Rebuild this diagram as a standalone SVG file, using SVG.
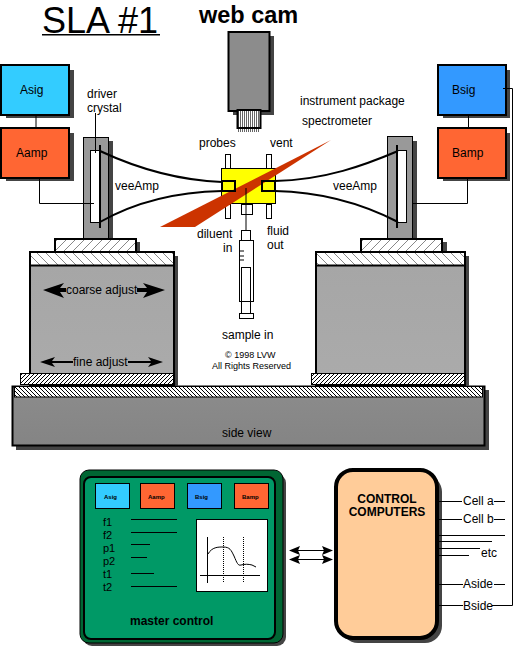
<svg xmlns="http://www.w3.org/2000/svg" width="513" height="649" viewBox="0 0 513 649">
<style>
text{font-family:"Liberation Sans",Arial,sans-serif;font-size:12px;fill:#000}
.b{font-weight:bold}
.s{fill:#444;stroke:none}
.k{stroke:#000;stroke-width:2}
.t{stroke:#000;stroke-width:1;fill:none}
.w{stroke:#000;stroke-width:1;fill:#fff}
.c{stroke:#000;stroke-width:2;fill:none}
.m{font-size:6px;font-weight:bold}
.p{font-size:11px}
</style>
<defs>
<linearGradient id="gb" x1="0" y1="0" x2="0" y2="1"><stop offset="0" stop-color="#a6a6a6"/><stop offset="1" stop-color="#ababab"/></linearGradient>
<linearGradient id="gt" x1="0" y1="0" x2="0" y2="1"><stop offset="0" stop-color="#8c8c8c"/><stop offset="1" stop-color="#848484"/></linearGradient>
<pattern id="hr" width="9" height="9" patternUnits="userSpaceOnUse"><rect width="9" height="9" fill="#fff"/><path d="M0 9L9 0" stroke="#888" stroke-width="1"/></pattern>
<pattern id="hl" width="9" height="9" patternUnits="userSpaceOnUse"><rect width="9" height="9" fill="#fff"/><path d="M0 0L9 9" stroke="#888" stroke-width="1"/></pattern>
<pattern id="dr" width="4" height="4" patternUnits="userSpaceOnUse"><rect width="4" height="4" fill="#fff"/><path d="M0 4L4 0" stroke="#000" stroke-width="1"/></pattern>
<pattern id="dl" width="4" height="4" patternUnits="userSpaceOnUse"><rect width="4" height="4" fill="#fff"/><path d="M0 0L4 4" stroke="#000" stroke-width="1"/></pattern>
<pattern id="lens" width="2" height="4" patternUnits="userSpaceOnUse"><rect width="2" height="4" fill="#fff"/><rect width="1" height="4" fill="#666"/></pattern>
</defs>
<rect width="513" height="649" fill="#fff"/>

<g id="title">
<text x="42" y="33" style="font-size:36px">SLA #1</text>
<rect x="42" y="34" width="118" height="1.5"/>
</g>
<g id="webcam">
<text x="199" y="23" class="b" style="font-size:23.500px">web cam</text>
<rect x="233" y="36" width="41" height="79" class="s"/>
<rect x="237" y="111" width="23" height="21" fill="url(#lens)"/>
<rect x="228.500" y="32" width="41" height="79" fill="#8c8c8c" stroke="#000" stroke-width="2"/>
<rect x="237.500" y="110" width="23" height="18" fill="url(#lens)" stroke="#000" stroke-width="2"/>
</g>

<g id="table">
<rect x="16" y="390" width="473" height="60" class="s"/>
<rect x="12.500" y="386.500" width="472" height="59" fill="url(#gt)" stroke="#000" stroke-width="2"/>
<rect x="14.500" y="386.500" width="468" height="10.500" style="fill:url(#dl);stroke:#000"/>
<text x="222" y="437">side view</text>
</g>

<g id="stageA">
<rect x="34" y="256" width="144" height="130" class="s"/>
<rect x="58" y="242" width="82" height="14" class="s"/>
<rect x="30" y="265" width="144" height="121" fill="url(#gb)" stroke="#000" stroke-width="2"/>
<rect x="30" y="252" width="144" height="13.500" fill="url(#hl)" stroke="#000" stroke-width="2"/>
<rect x="55" y="239" width="81" height="13" fill="url(#hr)" stroke="#000" stroke-width="2"/>
<rect x="20.500" y="373.500" width="153" height="11" style="fill:url(#dr);stroke:#000"/>
<path d="M43 290L64 283L60 288H66V292H60L64 298Z"/>
<path d="M165 290L143 283L147 288H137V292H147L143 298Z"/>
<text x="66" y="294">coarse adjust</text>
<path d="M40 362L55 357L52 361H73V363H52L55 367Z"/>
<path d="M163 362L148 357L151 361H128V363H151L148 367Z"/>
<text x="73" y="366">fine adjust</text>
</g>

<g id="stageB">
<rect x="320" y="256" width="149" height="130" class="s"/>
<rect x="365" y="242" width="82" height="14" class="s"/>
<rect x="316" y="265" width="149" height="121" fill="url(#gb)" stroke="#000" stroke-width="2"/>
<rect x="316" y="252" width="149" height="13.500" fill="url(#hl)" stroke="#000" stroke-width="2"/>
<rect x="361" y="239" width="81" height="13" fill="url(#hr)" stroke="#000" stroke-width="2"/>
<rect x="311.500" y="373.500" width="153" height="11" style="fill:url(#dr);stroke:#000"/>
</g>

<g id="Asig"><rect x="6" y="70" width="68" height="48" class="s"/><rect x="1" y="65" width="68" height="50" fill="#3cf" class="k"/><text x="20" y="94">Asig</text></g>
<g id="Aamp"><rect x="6" y="133" width="68" height="48" class="s"/><rect x="1" y="128" width="68" height="50" fill="#f63" class="k"/><text x="16" y="157">Aamp</text></g>
<g id="Bsig"><rect x="443" y="70" width="67" height="48" class="s"/><rect x="438" y="65" width="68" height="50" fill="#39f" class="k"/><text x="452" y="94">Bsig</text></g>
<g id="Bamp"><rect x="443" y="133" width="67" height="48" class="s"/><rect x="438" y="128" width="68" height="50" fill="#f63" class="k"/><text x="452" y="157">Bamp</text></g>

<g id="crystalA">
<rect x="88" y="141" width="25" height="97" class="s"/>
<rect x="83.500" y="137.500" width="25" height="101" fill="#999" stroke="#000"/>
<rect x="90.500" y="150.500" width="9" height="72" class="w"/>
<rect x="99" y="145" width="2" height="83"/>
<text x="87" y="98">driver</text>
<text x="87" y="112">crystal</text>
<text x="115" y="190">veeAmp</text>
</g>
<g id="crystalB">
<rect x="392" y="141" width="25" height="97" class="s"/>
<rect x="387.500" y="136.500" width="25" height="102" fill="#999" stroke="#000"/>
<rect x="397.500" y="150.500" width="9" height="72" class="w"/>
<rect x="396" y="145" width="2" height="83"/>
<text x="333" y="190">veeAmp</text>
</g>

<g id="cell">
<rect x="225.500" y="154.500" width="5" height="14" class="w"/>
<rect x="266.500" y="154.500" width="5" height="14" class="w"/>
<rect x="225.500" y="204.500" width="5" height="14" class="w"/>
<rect x="266.500" y="204.500" width="5" height="14" class="w"/>
<rect x="241.500" y="204.500" width="11" height="10" class="w"/>
<rect x="221.500" y="168.500" width="54" height="35" fill="#ff0" stroke="#000"/>
<polygon points="160,227 195,227 331,140" fill="#c30"/>
<rect x="222" y="181" width="13" height="10" class="c"/>
<rect x="262" y="181" width="13" height="10" class="c"/>
<path d="M246 188V230" class="t"/>
<text x="199" y="147">probes</text>
<text x="270" y="147">vent</text>
<text x="300" y="105">instrument package</text>
<text x="302" y="125">spectrometer</text>
<text x="197" y="238">diluent</text>
<text x="223" y="252">in</text>
<text x="267" y="235">fluid</text>
<text x="267" y="249">out</text>
</g>

<g id="syringe">
<rect x="241.500" y="230.500" width="9" height="10" class="w"/>
<rect x="239.500" y="240.500" width="14" height="61" class="w"/>
<path d="M240 251H244M240 256H244M240 260H244" class="t"/>
<rect x="241.500" y="267.500" width="9" height="34" class="w"/>
<rect x="241.500" y="301.500" width="9" height="12" class="w"/>
<rect x="239.500" y="313.500" width="14" height="5" class="w"/>
<text x="222" y="339">sample in</text>
<text x="225" y="358" style="font-size:9px">© 1998 LVW</text>
<text x="212" y="369" style="font-size:9px">All Rights Reserved</text>
</g>

<g id="master">
<rect x="83" y="474" width="203" height="172" rx="9" fill="#444"/>
<rect x="80" y="470" width="203" height="173" rx="9" fill="#063" stroke="#000" stroke-width="1"/>
<rect x="84" y="477" width="191" height="162" rx="7" fill="#096" stroke="#000" stroke-width="2"/>
<rect x="95.500" y="483.500" width="34" height="25" fill="#3cf" stroke="#000"/><text x="104" y="499" class="m">Asig</text>
<rect x="140.500" y="483.500" width="34" height="25" fill="#f63" stroke="#000"/><text x="148" y="499" class="m">Aamp</text>
<rect x="187.500" y="483.500" width="34" height="25" fill="#39f" stroke="#000"/><text x="195" y="499" class="m">Bsig</text>
<rect x="234.500" y="483.500" width="34" height="25" fill="#f63" stroke="#000"/><text x="242" y="499" class="m">Bamp</text>
<text x="103" y="526" class="p">f1</text>
<text x="103" y="539" class="p">f2</text>
<text x="103" y="552" class="p">p1</text>
<text x="103" y="565" class="p">p2</text>
<text x="103" y="578" class="p">t1</text>
<text x="103" y="591" class="p">t2</text>
<path d="M131 519.500H177M131 532.500H177M131 544.500H150M131 557.500H147M131 573.500H154M131 586.500H177" class="t"/>
<rect x="196.500" y="519.500" width="71" height="72" class="w"/>
<path d="M207.500 537V583M200 575.500H260" class="t"/>
<path d="M223.500 537V582M243.500 537V582" class="t" stroke-dasharray="1 1"/>
<path d="M208 554C212 547 218 547 223 547C230 547 231 550 234 556C237 563 238 566 241 565C245 564 248 564 252 565L256 567" class="t"/>
<text x="130" y="625" class="b">master control</text>
</g>

<g id="computers">
<rect x="341" y="475" width="101" height="168" rx="17" class="s"/>
<rect x="336" y="470" width="101" height="168" rx="17" fill="#fc9" stroke="#000" stroke-width="4"/>
<text x="387" y="503" class="b" text-anchor="middle">CONTROL</text>
<text x="387" y="516" class="b" text-anchor="middle">COMPUTERS</text>
<text x="463" y="505">Cell a</text>
<text x="463" y="523">Cell b</text>
<text x="481" y="557">etc</text>
<text x="463" y="588">Aside</text>
<text x="463" y="610">Bside</text>
</g>

<g id="connectors">
<path d="M36 115V128M468.500 115V128" class="t"/>
<path d="M39.500 178V203.500H94" class="t"/>
<path d="M467.500 178V203.500H413" class="t"/>
<path d="M95.500 113V153" class="t"/>
<path d="M100 151C130 165 170 180 222 182" class="c"/>
<path d="M100 222C130 205 170 192 222 191" class="c"/>
<path d="M398 151C365 165 325 180 275 181" class="c"/>
<path d="M398 222C365 205 325 192 275 191" class="c"/>
<path d="M503 88.500H512.500V605.500H492M463 605.500H438" class="t"/>
<path d="M438 501.500H462M494 501.500H505M438 519.500H462M494 519.500H505M438 535.500H505M438 541.500H492M438 548.500H480M438 555.500H469M438 584.500H463M494 584.500H505" class="t"/>
<path d="M291 550.500H332M291 559.500H332" class="t"/>
<path d="M289 550.500L300 546L298 550.500L300 555ZM333 550.500L322 546L324 550.500L322 555ZM289 559.500L300 555L298 559.500L300 564ZM333 559.500L322 555L324 559.500L322 564Z"/>
</g>
</svg>
